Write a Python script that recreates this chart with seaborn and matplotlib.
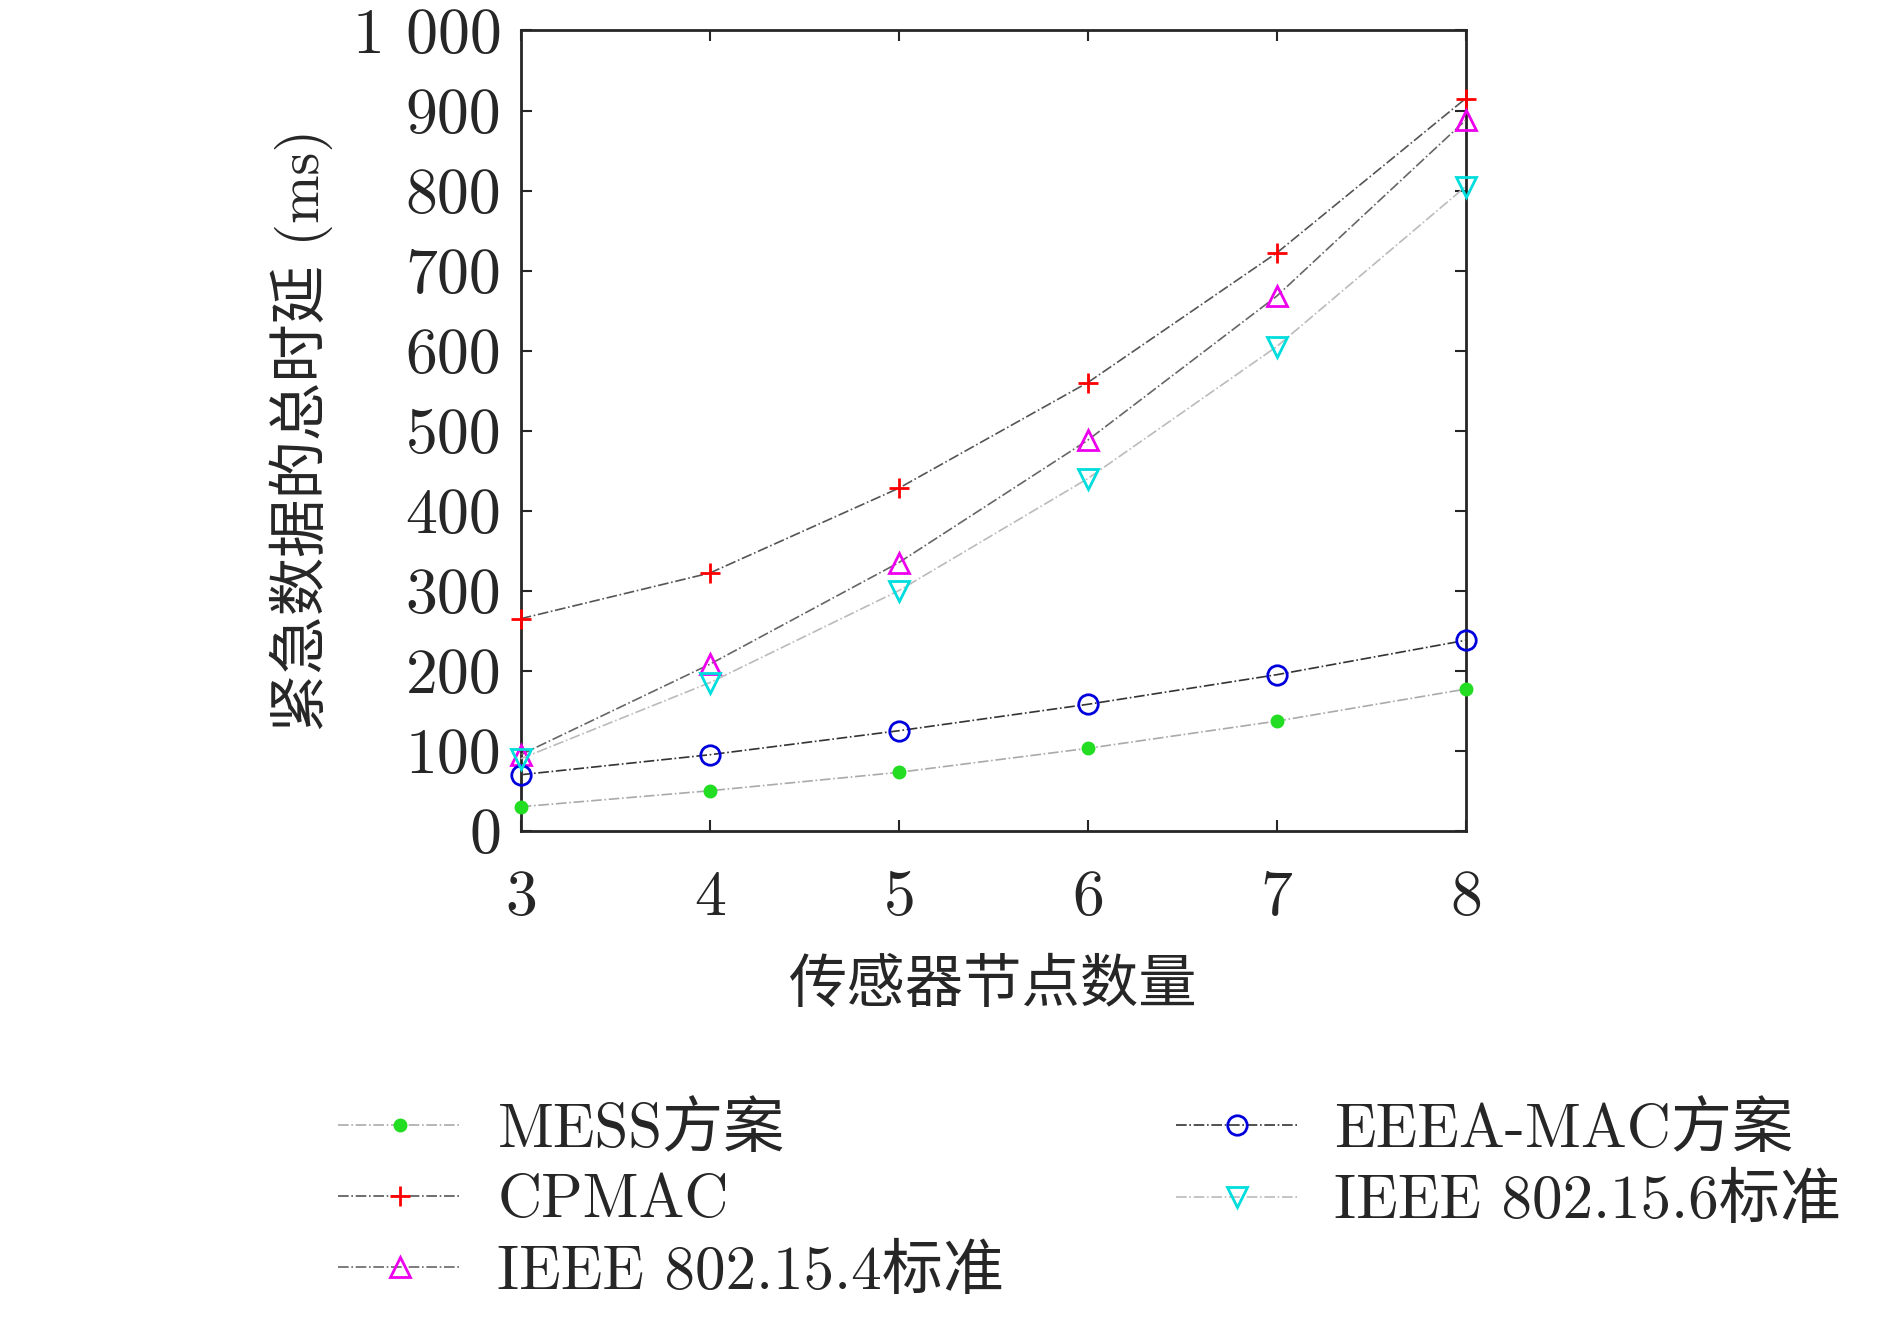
import matplotlib
matplotlib.use('Agg')
import matplotlib.pyplot as plt
import seaborn as sns
import pandas as pd

sns.set_style('ticks')
plt.rcParams['font.family'] = ['cmr10', 'Noto Sans CJK SC']
plt.rcParams['axes.formatter.use_mathtext'] = True

nodes = [3, 4, 5, 6, 7, 8]
mess = [30, 50, 73, 103, 137, 177]
eeea = [70, 95, 125, 158, 195, 238]
cpmac = [265, 322, 428, 560, 722, 915]
ieee4 = [95, 208, 335, 488, 668, 888]
ieee6 = [90, 185, 300, 440, 605, 805]

# order chosen so the column-wise legend reads row by row like the original
series = [
    ('MESS方案', mess, '#22dd22', 'o', '#aaaaaa', True, 8),
    ('CPMAC', cpmac, '#ff0000', '+', '#555555', True, 14),
    ('IEEE 802.15.4标准', ieee4, '#ee00ee', '^', '#666666', False, 14),
    ('EEEA-MAC方案', eeea, '#0000dd', 'o', '#333333', False, 14),
    ('IEEE 802.15.6标准', ieee6, '#00dddd', 'v', '#bbbbbb', False, 14),
]

fig = plt.figure(figsize=(18.9, 13.25), dpi=100)
ax = fig.add_axes([0.2755, 0.373, 0.5, 0.604])

for name, vals, mc, mk, lc, filled, ms in series:
    df = pd.DataFrame({'x': nodes, 'y': vals})
    sns.lineplot(data=df, x='x', y='y', ax=ax, color=lc, linestyle='-.', linewidth=1.2,
                 marker=mk, markersize=ms, markeredgewidth=2,
                 markerfacecolor=(mc if filled else 'none'), markeredgecolor=mc,
                 label=name, clip_on=False, zorder=3)

ax.set_xlim(3, 8)
ax.set_ylim(0, 1000)
ax.set_xticks(nodes)
ax.set_yticks(range(0, 1001, 100))
ax.set_yticklabels([str(v) if v < 1000 else '1 000' for v in range(0, 1001, 100)])
ax.tick_params(direction='in', length=8, width=1.5, labelsize=46, top=True, right=True, pad=14)
ax.tick_params(axis='x', pad=28)
for s in ax.spines.values():
    s.set_linewidth(2)
ax.set_xlabel('传感器节点数量', fontsize=42, labelpad=22)
ax.set_ylabel('紧急数据的总时延 (ms)', fontsize=42, labelpad=14)

h, l = ax.get_legend_handles_labels()
ax.get_legend().remove()
fig.legend(h, l, ncol=2, loc='upper left',
           bbox_to_anchor=(0.15, 0.21), frameon=False, fontsize=44,
           handlelength=2.0, handletextpad=0.6, columnspacing=2.8, labelspacing=0.25)

fig.savefig('out.png', dpi=100)
